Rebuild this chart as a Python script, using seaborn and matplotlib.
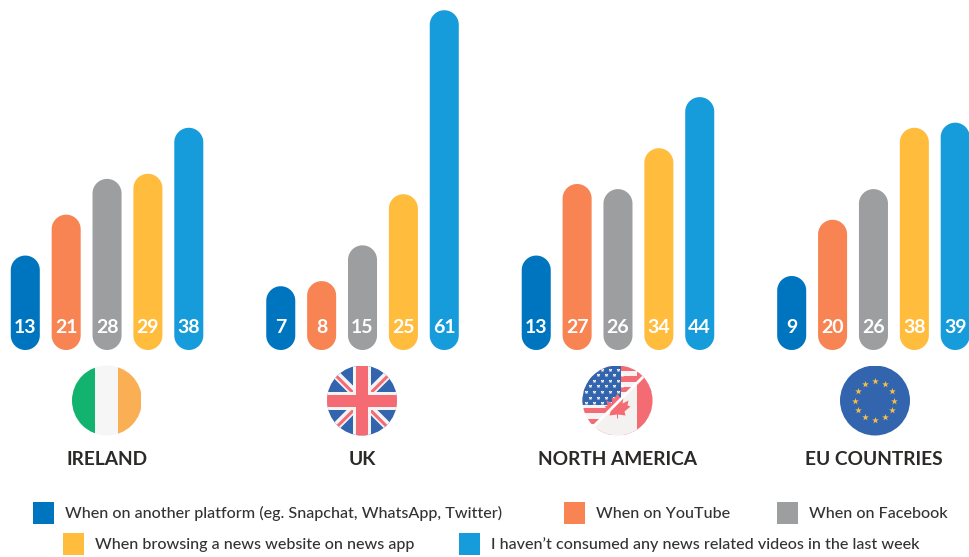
import matplotlib
matplotlib.use("Agg")
import numpy as np
import pandas as pd
import seaborn as sns
import matplotlib.pyplot as plt
from matplotlib.font_manager import FontProperties
from matplotlib.patches import Patch, Circle, Rectangle, Polygon

# Values
regions = ["IRELAND", "UK", "NORTH AMERICA", "EU COUNTRIES"]
sources = [
    "When on another platform (eg. Snapchat, WhatsApp, Twitter)",
    "When on YouTube",
    "When on Facebook",
    "When browsing a news website on news app",
    "I haven\u2019t consumed any news related videos in the last week",
]
other_platform = [13, 7, 13, 9]
youtube = [21, 8, 27, 20]
facebook = [28, 15, 26, 26]
news_site = [29, 25, 34, 38]
no_news = [38, 61, 44, 39]
colors = ["#0075BF", "#F78452", "#9C9E9F", "#FFBC3D", "#179CDB"]

RED = "#F56B74"
FLAG_BLUE = "#3364AE"
DARK = "#2B2A29"

sns.set_theme(style="white")
plt.rcParams["font.family"] = ["Lato", "DejaVu Sans"]

rows = []
for src, vals in zip(sources, [other_platform, youtube, facebook, news_site, no_news]):
    for reg, v in zip(regions, vals):
        rows.append({"region": reg, "source": src, "value": v})
df = pd.DataFrame(rows)

fig = plt.figure(figsize=(9.69, 5.57), dpi=100, facecolor="white")
ax = fig.add_axes([0, 207 / 557, 1, 350 / 557])

sns.barplot(data=df, x="region", y="value", hue="source", order=regions,
            hue_order=sources, palette=colors, gap=0.29, legend=False, ax=ax)

# Bars start below zero, the number sits in the foot of each one
floor = -5.48
ax.set_xlim(-0.419, 3.374)
ax.set_ylim(floor, 63)
px_x = 969 / 3.793
px_y = 350 / 68.48


def pill(x, w, top, col):
    # bar outline with true half circles at both ends
    rx = w / 2
    ry = (w * px_x / 2) / px_y
    t = np.linspace(0, np.pi, 40)
    xs = x + rx + rx * np.cos(t)
    upper = top - ry + ry * np.sin(t)
    lower = floor + ry - ry * np.sin(t)
    pts = np.r_[np.c_[xs, upper], np.c_[xs[::-1], lower[::-1]]]
    ax.add_patch(Polygon(pts, closed=True, fc=col, ec="none"))


for cont, col in zip(ax.containers, colors):
    for bar in cont:
        x, w, h = bar.get_x(), bar.get_width(), bar.get_height()
        bar.set_visible(False)
        pill(x, w, h, col)
        ax.text(x + w / 2, -1.0, f"{h:.0f}", color="white", ha="center",
                va="center", fontsize=14, fontweight="bold")

ax.set_xlabel("")
ax.set_ylabel("")
ax.set_yticks([])
ax.set_xticks(range(len(regions)))
ax.set_xticklabels(regions, fontsize=13.8, fontweight="bold", color=DARK)
ax.tick_params(axis="x", length=0, pad=72.5)
sns.despine(ax=ax, left=True, bottom=True, top=True, right=True)
ax.patch.set_alpha(0)

# Flags, drawn in pixel coordinates on a see-through layer
fl = fig.add_axes([0, 0, 1, 1], zorder=3)
fl.set_xlim(0, 969)
fl.set_ylim(557, 0)
fl.axis("off")


def disc(cx, cy, r=35):
    c = Circle((cx, cy), r, fc="none", ec="none")
    fl.add_patch(c)
    return c


def clipped(artist, clip):
    fl.add_artist(artist)
    artist.set_clip_path(clip)
    return artist


# Ireland
c = disc(107, 400.5)
for x0, col in [(72, "#12B26F"), (95, "#F6F6F6"), (118, "#FBAF55")]:
    clipped(Rectangle((x0, 365), 23.5, 71, fc=col, ec="none"), c)

# UK
cx, cy = 362, 400.5
c = disc(cx, cy)
clipped(Rectangle((cx - 35, cy - 35), 70, 70, fc=FLAG_BLUE, ec="none", zorder=0.5), c)
for sx in (1, -1):
    for col, lw, off in [("#F4F4F4", 6.0, 0), (RED, 2.2, 1.2)]:
        ln = fl.plot([cx - 35, cx + 35], [cy - 35 * sx + off, cy + 35 * sx + off],
                     color=col, lw=lw, solid_capstyle="butt", zorder=0.7)[0]
        ln.set_clip_path(c)
clipped(Rectangle((cx - 9, cy - 35), 18, 70, fc="#F4F4F4", ec="none"), c)
clipped(Rectangle((cx - 35, cy - 9), 70, 18, fc="#F4F4F4", ec="none"), c)
clipped(Rectangle((cx - 6, cy - 35), 12, 70, fc=RED, ec="none"), c)
clipped(Rectangle((cx - 35, cy - 6), 70, 12, fc=RED, ec="none"), c)

# North America: US flag top left, Canada bottom right
cx, cy = 617.5, 400.5
c = disc(cx, cy)
clipped(Rectangle((cx - 35, cy - 35), 70, 70, fc="#F4F4F4", ec="none"), c)
for i in range(7):
    clipped(Rectangle((cx - 35, cy - 35 + i * 10.6), 70, 5.4, fc=RED, ec="none"), c)
clipped(Rectangle((cx - 35, cy - 35), 38.5, 39, fc=FLAG_BLUE, ec="none"), c)
star_x, star_y = [], []
for i in range(7):
    for j in range(5):
        star_x.append(cx - 31 + j * 8 + (i % 2) * 4)
        star_y.append(cy - 31 + i * 5.6)
s = fl.scatter(star_x, star_y, s=8, marker="*", color="white", linewidths=0)
s.set_clip_path(c)
clipped(Polygon([(cx + 40, cy - 38), (cx + 40, cy + 40), (cx - 40, cy + 40)], fc="#F4F2F0", ec="none"), c)
clipped(Rectangle((cx + 19.5, cy - 40), 20, 80, fc=RED, ec="none"), c)
clipped(Polygon([(cx - 35, cy + 16), (cx - 18, cy + 33), (cx - 18, cy + 40), (cx - 35, cy + 40)], fc=RED, ec="none"), c)
leaf = [(0, -15), (3, -10), (6, -11), (5, -5), (11, -8), (10, -3), (13, -2), (7, 3), (8, 7),
        (0.5, 6), (0.5, 10), (-0.5, 10), (-0.5, 6), (-8, 7), (-7, 3), (-13, -2), (-10, -3), (-11, -8), (-5, -5), (-6, -11), (-3, -10)]
clipped(Polygon([(cx + a, cy + 8 + b) for a, b in leaf], fc=RED, ec="none"), c)
line = fl.plot([cx - 26, cx + 26], [cy + 28, cy - 24], color="white", lw=2, solid_capstyle="butt")[0]
line.set_clip_path(c)

# EU
cx, cy = 875, 400.5
c = disc(cx, cy)
clipped(Rectangle((cx - 35, cy - 35), 70, 70, fc=FLAG_BLUE, ec="none"), c)
ang = np.deg2rad(np.arange(0, 360, 30))
fl.scatter(cx + 19.5 * np.cos(ang), cy + 19.5 * np.sin(ang), s=26, marker="*",
           color="#F9C044", linewidths=0)

# Legend entries sit where the reference has them, one legend per entry
legend_font = FontProperties(family="Lato", weight="medium", size=11.6)
legend_spots = [(33, 513), (564, 513), (777, 513), (63, 544), (459, 544)]
for col, src, (lx, ly) in zip(colors, sources, legend_spots):
    fig.legend(handles=[Patch(fc=col, ec="none", label=src)],
               bbox_to_anchor=(lx / 969, 1 - ly / 557), frameon=False,
               loc="center left", prop=legend_font, labelcolor="#333333",
               handlelength=1.3, handleheight=1.65, handletextpad=0.68,
               borderpad=0, borderaxespad=0)

fig.savefig("out.png", dpi=100)
